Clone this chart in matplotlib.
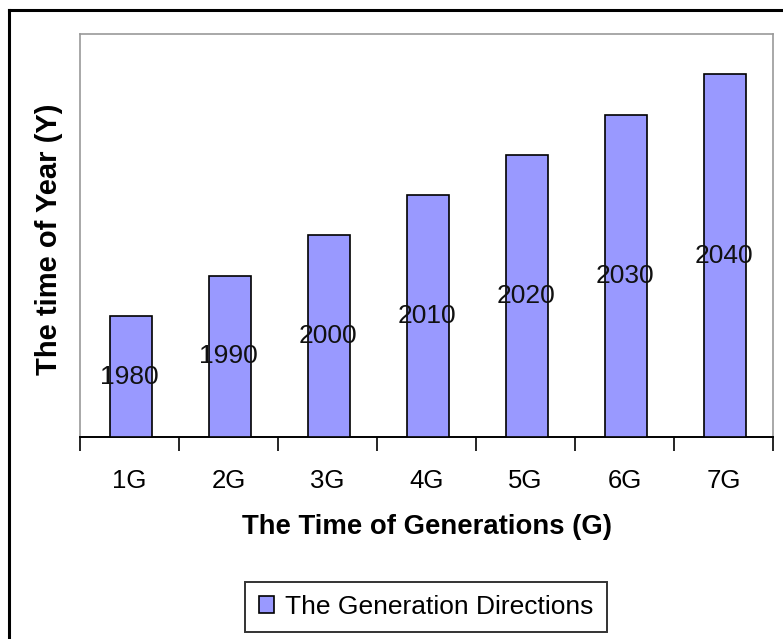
import numpy as np
import matplotlib
matplotlib.use("Agg")
import matplotlib.pyplot as plt
from matplotlib.lines import Line2D

plt.rcParams['font.family'] = ['Liberation Sans', 'DejaVu Sans']

generations = ['1G', '2G', '3G', '4G', '5G', '6G', '7G']
years = [1980, 1990, 2000, 2010, 2020, 2030, 2040]

W, H = 783, 639
fig = plt.figure(figsize=(W / 100, H / 100), dpi=100)

# outer chart frame (only left and top edges are inside the canvas)
fig.add_artist(Line2D([8.5 / W, 8.5 / W], [0, 1 - 10 / H], color='black', lw=2.2))
fig.add_artist(Line2D([8.5 / W, 1], [1 - 10 / H, 1 - 10 / H], color='black', lw=2.2))

ax = fig.add_axes([80 / W, 1 - 437 / H, 693 / W, 403 / H])

x = np.arange(len(generations))
base = 1950
bars = ax.bar(x + 0.015, np.array(years) - base, bottom=base, width=0.42,
              color='#9999FF', edgecolor='black', linewidth=1.2,
              label='The Generation Directions', zorder=3)

for xi, yr in zip(x, years):
    ax.text(xi, base + (yr - base) / 2, str(yr), ha='center', va='center',
            fontsize=19, color='#111111', zorder=4)

ax.set_xlim(-0.5, len(generations) - 0.5)
ax.set_ylim(base, 2050)

ax.set_xticks(x)
ax.set_xticklabels(generations, fontsize=18.5)
ax.set_xticks(np.arange(-0.5, len(generations)), minor=True)
ax.tick_params(axis='x', which='major', length=0, pad=23)
ax.tick_params(axis='x', which='minor', length=10, width=1.2, color='black')
ax.set_yticks([])

for side in ['left', 'top', 'right']:
    ax.spines[side].set_color('#999999')
    ax.spines[side].set_linewidth(1.2)
ax.spines['bottom'].set_color('black')
ax.spines['bottom'].set_linewidth(1.4)

ax.set_xlabel('The Time of Generations (G)', fontsize=19.8, fontweight='bold', labelpad=15)
ax.set_ylabel('The time of Year (Y)', fontsize=21, fontweight='bold')
ax.yaxis.set_label_coords(-0.024, 0.49)

leg = fig.legend(handles=[bars], loc='center', bbox_to_anchor=(426 / W, 1 - 607 / H),
                 fontsize=19, frameon=True, fancybox=False, edgecolor='black',
                 handlelength=0.6, handleheight=0.6, handletextpad=0.4,
                 borderpad=0.5)
leg.get_frame().set_linewidth(1.4)

fig.savefig('out.png', dpi=100, facecolor='white')
